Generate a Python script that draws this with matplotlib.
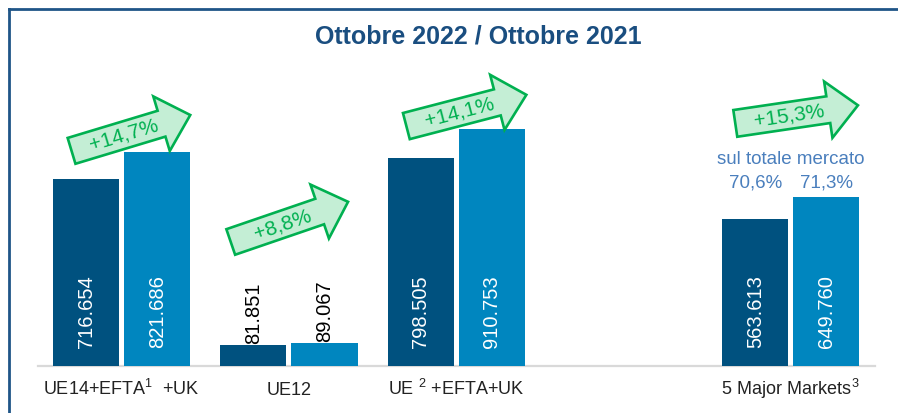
import numpy as np
import matplotlib
matplotlib.use("Agg")
import matplotlib.pyplot as plt
from matplotlib import transforms
from matplotlib.patches import Polygon
from matplotlib.lines import Line2D

plt.rcParams['font.family'] = ['Liberation Sans', 'DejaVu Sans']
plt.rcParams['mathtext.fontset'] = 'custom'
plt.rcParams['mathtext.rm'] = 'Liberation Sans'
plt.rcParams['mathtext.it'] = 'Liberation Sans:italic'
plt.rcParams['mathtext.bf'] = 'Liberation Sans:bold'

# ---------------- data ----------------
categories = ["UE14+EFTA$^1$  +UK", "UE12", "UE $^2$ +EFTA+UK", "5 Major Markets$^{\\,3}$"]
values_2021 = [716654, 81851, 798505, 563613]
values_2022 = [821686, 89067, 910753, 649760]
growth_labels = ["+14,7%", "+8,8%", "+14,1%", "+15,3%"]
share_note = "sul totale mercato"
share_labels = ["70,6%", "71,3%"]
title = "Ottobre 2022 / Ottobre 2021"

# ---------------- style ----------------
C_DARK = "#00517f"
C_LIGHT = "#0086bf"
C_GREEN = "#00b050"
C_GREEN_FILL = "#c4eed5"
C_TITLE = "#1a4e80"
C_SHARE = "#4a7fbd"
C_TEXT = "#222222"

W_PX, H_PX, DPI = 898, 413, 100
fig = plt.figure(figsize=(W_PX / DPI, H_PX / DPI), dpi=DPI)
ax = fig.add_axes([38 / W_PX, 47 / H_PX, 836.5 / W_PX, 316 / H_PX])

x_pos = np.array([0, 1, 2, 4], dtype=float)   # empty slot before the last group
bw = 0.395
off = 0.2126

b1 = ax.bar(x_pos - off, values_2021, bw, color=C_DARK, zorder=2)
b2 = ax.bar(x_pos + off, values_2022, bw, color=C_LIGHT, zorder=2)

ax.set_xlim(-0.5, 4.5)
ax.set_ylim(0, 316 * 3840)
ax.set_yticks([])
ax.set_xticks(x_pos)
ax.set_xticklabels(categories, fontsize=13, color=C_TEXT)
ax.tick_params(axis='x', length=0, pad=21)
for lbl in ax.get_xticklabels():
    lbl.set_va('baseline')
for s in ['top', 'left', 'right']:
    ax.spines[s].set_visible(False)
ax.spines['bottom'].set_color('#d9d9d9')
ax.spines['bottom'].set_linewidth(1.6)
ax.spines['bottom'].set_zorder(1)

def fmt(v):
    return f"{v:,}".replace(",", ".")

for bars in (b1, b2):
    for rect in bars:
        v = rect.get_height()
        cx = rect.get_x() + rect.get_width() / 2
        if v > 200000:
            ax.annotate(fmt(int(v)), (cx, 0), xytext=(0, 12.7), textcoords='offset points',
                        rotation=90, rotation_mode='anchor', ha='left', va='center',
                        color='white', fontsize=14.5, zorder=3)
        else:
            ax.annotate(fmt(int(v)), (cx, v), xytext=(0, 0.5), textcoords='offset points',
                        rotation=90, rotation_mode='anchor', ha='left', va='center',
                        color='black', fontsize=14.5, zorder=3)

# ---------------- growth arrows ----------------
L, Wsh, Hh, HL = 124, 27, 57, 30
arrow_angles = [16.8, 18.9, 14.6, 8.4]
tip_offsets = [(0, 37), (-9.5, 141), (1.5, 34), (-1.5, 91.5)]  # pixels from top-right of taller bar

local = np.array([(-L, -Wsh / 2), (-HL, -Wsh / 2), (-HL, -Hh / 2), (0, 0),
                  (-HL, Hh / 2), (-HL, Wsh / 2), (-L, Wsh / 2)])

for i, rect in enumerate(b2):
    ax_x = rect.get_x() + rect.get_width()
    ax_y = rect.get_height()
    ang = arrow_angles[i]
    dx, dy = tip_offsets[i]
    tr = (transforms.Affine2D().rotate_deg(ang).translate(dx, dy)
          + transforms.ScaledTranslation(ax_x, ax_y, ax.transData))
    poly = Polygon(local, closed=True, transform=tr, facecolor=C_GREEN_FILL,
                   edgecolor=C_GREEN, linewidth=1.9, joinstyle='miter', zorder=4, clip_on=False)
    ax.add_patch(poly)
    ax.text(-L * 0.56, 0, growth_labels[i], transform=tr, rotation=ang, rotation_mode='anchor',
            ha='center', va='center', color=C_GREEN, fontsize=15, zorder=5)

# ---------------- market share note ----------------
g = 3
top = max(values_2021[g], values_2022[g])
ax.annotate(share_note, (x_pos[g], top), xytext=(0, 27), textcoords='offset points',
            ha='center', va='center', color=C_SHARE, fontsize=13.5)
for k, rect in enumerate([b1[g], b2[g]]):
    ax.annotate(share_labels[k], (rect.get_x() + rect.get_width() / 2, top), xytext=(0, 9.9),
                textcoords='offset points', ha='center', va='center', color=C_SHARE, fontsize=13.5)

# ---------------- title & frame ----------------
fig.text(478.5 / W_PX, 1 - 37 / H_PX, title, ha='center', va='center', fontsize=18,
         fontweight='bold', color=C_TITLE)
fig.add_artist(Line2D([8.5 / W_PX, 1.0], [1 - 8.5 / H_PX, 1 - 8.5 / H_PX], transform=fig.transFigure,
                      color='#1f5587', linewidth=2.0))
fig.add_artist(Line2D([8.5 / W_PX, 8.5 / W_PX], [0, 1 - 8.5 / H_PX], transform=fig.transFigure,
                      color='#1f5587', linewidth=2.0))

fig.savefig("out.png", dpi=DPI)
